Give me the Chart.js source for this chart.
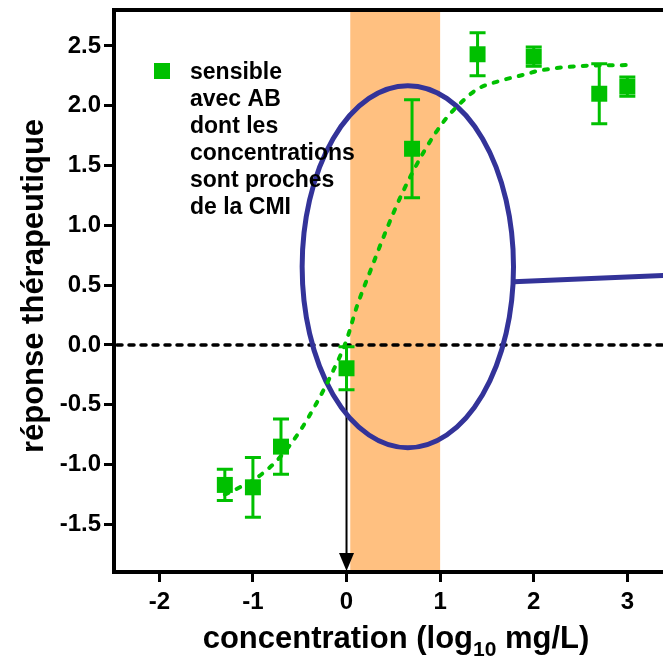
<!DOCTYPE html>
<html>
<head>
<meta charset="utf-8">
<script src="https://cdn.jsdelivr.net/npm/chart.js@4/dist/chart.umd.min.js"></script>
<style>
  html, body { margin: 0; padding: 0; background: #fff; }
</style>
</head>
<body>
<canvas id="dose-chart" width="663" height="660"></canvas>
<script>
// measured points : log10 of the concentration, mean response, SEM
let concLog = [-1.3, -1, -0.7, 0, 0.7, 1.4, 2, 2.7, 3];
let responseMean = [-1.17, -1.19, -0.85, -0.195, 1.64, 2.43, 2.41, 2.10, 2.16];
let responseSem = [0.13, 0.25, 0.23, 0.18, 0.41, 0.18, 0.08, 0.25, 0.08];

// fitted curve
let fitX = [-1.3, -1.19, -0.94, -0.7, -0.49, -0.33, -0.17, 0, 0.11, 0.27, 0.43, 0.59, 0.83, 1.05, 1.27, 1.4, 1.65, 1.9, 2.04, 2.46, 3.0];
let fitY = [-1.25, -1.21, -1.10, -0.93, -0.71, -0.50, -0.26, 0.04, 0.32, 0.65, 0.97, 1.26, 1.62, 1.88, 2.06, 2.14, 2.21, 2.26, 2.29, 2.33, 2.34];

let xTicks = [-2, -1, 0, 1, 2, 3];
let xTickLabels = ['-2', '-1', '0', '1', '2', '3'];
let yTicks = [-1.5, -1, -0.5, 0, 0.5, 1, 1.5, 2, 2.5];
let yTickLabels = ['-1.5', '-1.0', '-0.5', '0.0', '0.5', '1.0', '1.5', '2.0', '2.5'];

let legendLines = ['sensible', 'avec AB', 'dont les', 'concentrations', 'sont proches', 'de la CMI'];
let yTitle = 'réponse thérapeutique';
let xTitleParts = ['concentration (log', '10', ' mg/L)'];

// CMI zone and the circled part of the curve (data units)
let cmiBand = [0.04, 1.0];
let arrowX = 0;
let zoneCenter = [0.655, 0.654];
let zoneRadius = [1.129, 1.513];
let zoneLineEndY = [0.528, 0.583];

let green = 'rgb(0,192,0)';
let navy = '#333399';
let fontFam = '"Liberation Sans", Arial, sans-serif';


let chartEl = document.getElementById('dose-chart');

let decorPlugin = {
    id: 'decor',

    beforeDraw(chart) {
        let ctx = chart.ctx;
        let xs = chart.scales.x;
        let area = chart.chartArea;
        ctx.save();
        ctx.fillStyle = '#FFC080';
        let x0 = xs.getPixelForValue(cmiBand[0]);
        let x1 = xs.getPixelForValue(cmiBand[1]);
        ctx.fillRect(x0, area.top, x1 - x0, area.bottom - area.top);
        ctx.restore();
    },

    beforeDatasetsDraw(chart) {
        let ctx = chart.ctx;
        let xs = chart.scales.x, ys = chart.scales.y;
        let area = chart.chartArea;
        ctx.save();

        // zero line
        ctx.strokeStyle = '#000';
        ctx.lineWidth = 3.5;
        ctx.lineCap = 'round';
        ctx.setLineDash([5, 7]);
        ctx.beginPath();
        ctx.moveTo(area.left + 3, ys.getPixelForValue(0));
        ctx.lineTo(area.right, ys.getPixelForValue(0));
        ctx.stroke();
        ctx.setLineDash([]);
        ctx.lineCap = 'butt';

        // arrow down to the axis
        let ax = xs.getPixelForValue(arrowX);
        ctx.lineWidth = 2;
        ctx.beginPath();
        ctx.moveTo(ax, ys.getPixelForValue(0));
        ctx.lineTo(ax, area.bottom - 10);
        ctx.stroke();
        ctx.fillStyle = '#000';
        ctx.beginPath();
        ctx.moveTo(ax - 7.5, area.bottom - 19);
        ctx.lineTo(ax + 7.5, area.bottom - 19);
        ctx.lineTo(ax, area.bottom - 1);
        ctx.closePath();
        ctx.fill();

        // ellipse + connector
        let cx = xs.getPixelForValue(zoneCenter[0]);
        let cy = ys.getPixelForValue(zoneCenter[1]);
        let rx = xs.getPixelForValue(zoneCenter[0] + zoneRadius[0]) - cx;
        let ry = cy - ys.getPixelForValue(zoneCenter[1] + zoneRadius[1]);
        ctx.strokeStyle = navy;
        ctx.lineWidth = 5;
        ctx.beginPath();
        ctx.ellipse(cx, cy, rx, ry, 0, 0, Math.PI * 2);
        ctx.stroke();
        ctx.beginPath();
        ctx.moveTo(cx + rx, ys.getPixelForValue(zoneLineEndY[0]));
        ctx.lineTo(area.right + 5, ys.getPixelForValue(zoneLineEndY[1]));
        ctx.stroke();

        ctx.restore();
    },

    afterDatasetsDraw(chart) {
        let ctx = chart.ctx;
        let xs = chart.scales.x, ys = chart.scales.y;
        ctx.save();
        ctx.strokeStyle = green;
        ctx.lineWidth = 3;
        for (let i = 0; i < concLog.length; i++) {
            let px = xs.getPixelForValue(concLog[i]);
            let top = ys.getPixelForValue(responseMean[i] + responseSem[i]);
            let bot = ys.getPixelForValue(responseMean[i] - responseSem[i]);
            ctx.beginPath();
            ctx.moveTo(px, top);
            ctx.lineTo(px, bot);
            ctx.moveTo(px - 8, top);
            ctx.lineTo(px + 8, top);
            ctx.moveTo(px - 8, bot);
            ctx.lineTo(px + 8, bot);
            ctx.stroke();
        }
        ctx.restore();
    },

    afterDraw(chart) {
        let ctx = chart.ctx;
        let area = chart.chartArea;
        ctx.save();

        // top frame line
        ctx.strokeStyle = '#000';
        ctx.lineWidth = 4;
        ctx.beginPath();
        ctx.moveTo(area.left - 2, area.top);
        ctx.lineTo(chart.width, area.top);
        ctx.stroke();

        // legend
        ctx.fillStyle = green;
        ctx.fillRect(154, 63, 16, 16);
        ctx.fillStyle = '#000';
        ctx.font = 'bold 23px ' + fontFam;
        ctx.textBaseline = 'alphabetic';
        ctx.textAlign = 'left';
        legendLines.forEach((t, i) => ctx.fillText(t, 190, 79 + i * 27));

        // y title
        ctx.save();
        ctx.translate(43, 286);
        ctx.rotate(-Math.PI / 2);
        ctx.textAlign = 'center';
        ctx.font = 'bold 31px ' + fontFam;
        ctx.fillText(yTitle, 0, 0);
        ctx.restore();

        // x title with subscript
        let bigFont = 'bold 31px ' + fontFam;
        let subFont = 'bold 21px ' + fontFam;
        ctx.font = bigFont;
        let w0 = ctx.measureText(xTitleParts[0]).width;
        let w2 = ctx.measureText(xTitleParts[2]).width;
        ctx.font = subFont;
        let w1 = ctx.measureText(xTitleParts[1]).width;
        let start = 396 - (w0 + w1 + w2) / 2;
        ctx.font = bigFont;
        ctx.fillText(xTitleParts[0], start, 648);
        ctx.font = subFont;
        ctx.fillText(xTitleParts[1], start + w0, 656);
        ctx.font = bigFont;
        ctx.fillText(xTitleParts[2], start + w0 + w1, 648);

        ctx.restore();
    }
};


let tickFont = { family: fontFam, size: 24, weight: 'bold' };

let config = {
    type: 'scatter',
    data: {
        datasets: [
            {
                data: concLog.map((x, i) => ({ x: x, y: responseMean[i] })),
                showLine: false,
                pointStyle: 'rect',
                pointRadius: 11.3,
                pointBackgroundColor: green,
                pointBorderColor: green,
                pointBorderWidth: 0,
            },
            {
                data: fitX.map((x, i) => ({ x: x, y: fitY[i] })),
                showLine: true,
                fill: false,
                borderColor: green,
                borderWidth: 4,
                borderDash: [4, 9],
                borderCapStyle: 'round',
                cubicInterpolationMode: 'monotone',
                pointRadius: 0,
            },
        ]
    },
    options: {
        responsive: false,
        animation: false,
        events: [],
        layout: {
            autoPadding: false,
            padding: { top: 10, left: 0, right: 0, bottom: 0 }
        },
        plugins: {
            legend: { display: false },
            tooltip: { enabled: false },
        },
        scales: {
            x: {
                type: 'linear',
                min: -2.484,
                max: 3.381,
                afterBuildTicks: s => { s.ticks = xTicks.map(v => ({ value: v })); },
                afterFit: s => {
                    s.height = 88;
                    s.paddingLeft = 0;
                    s.paddingRight = 0;
                },
                ticks: {
                    font: tickFont,
                    color: '#000',
                    padding: 6,
                    maxRotation: 0,
                    callback: v => xTickLabels[xTicks.indexOf(v)],
                },
                grid: {
                    drawOnChartArea: false,
                    drawTicks: true,
                    tickLength: 10,
                    tickWidth: 3,
                    tickColor: '#000',
                },
                border: { display: true, color: '#000', width: 4 },
            },
            y: {
                type: 'linear',
                min: -1.898,
                max: 2.80,
                afterBuildTicks: s => { s.ticks = yTicks.map(v => ({ value: v })); },
                afterFit: s => {
                    s.width = 114;
                    s.paddingTop = 0;
                    s.paddingBottom = 0;
                },
                ticks: {
                    font: tickFont,
                    color: '#000',
                    padding: 3,
                    callback: v => yTickLabels[yTicks.indexOf(v)],
                },
                grid: {
                    drawOnChartArea: false,
                    drawTicks: true,
                    tickLength: 10,
                    tickWidth: 3,
                    tickColor: '#000',
                },
                border: { display: true, color: '#000', width: 4 },
            }
        }
    },
    plugins: [decorPlugin]
};

let doseChart = new Chart(chartEl, config);
</script>
</body>
</html>
